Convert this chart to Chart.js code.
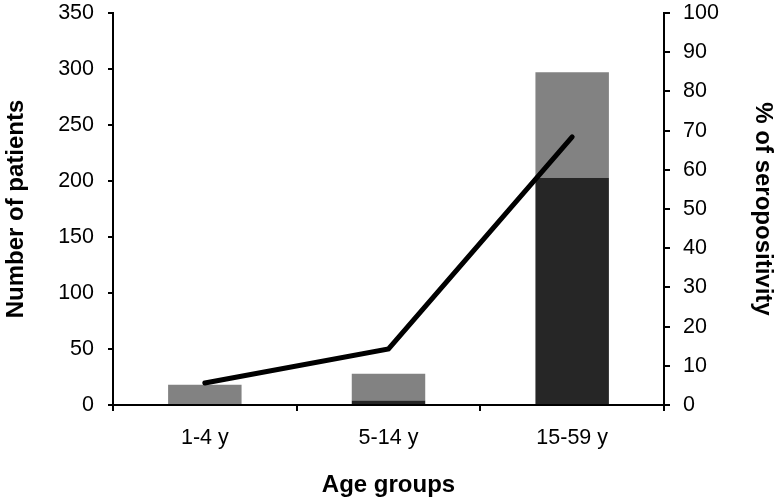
<!DOCTYPE html>
<html>
<head>
<meta charset="utf-8">
<script src="https://cdn.jsdelivr.net/npm/chart.js@4/dist/chart.umd.min.js"></script>
<style>
html,body{margin:0;padding:0;background:#fff;}
#wrap{width:778px;height:501px;position:relative;}
</style>
</head>
<body>
<div id="wrap"><canvas id="c" width="778" height="501"></canvas></div>
<script>
const categories = ["1-4 y", "5-14 y", "15-59 y"];
const seropositive = [1, 4, 203];
const seronegative = [17, 24, 94];
const seropositivityPct = [5.6, 14.3, 68.4];
const leftTicks = [0, 50, 100, 150, 200, 250, 300, 350];
const rightTicks = [0, 10, 20, 30, 40, 50, 60, 70, 80, 90, 100];

const FONT = "'Liberation Sans', Arial, sans-serif";
Chart.defaults.font.family = FONT;
Chart.defaults.color = "#000";

function fixV(w) {
  return s => { s.width = w; s.paddingTop = 0; s.paddingBottom = 0; };
}

new Chart(document.getElementById('c'), {
  data: {
    labels: categories,
    datasets: [
      { type: 'line', label: '% seropositivity', data: seropositivityPct, yAxisID: 'y1',
        borderColor: '#000', borderWidth: 5, pointRadius: 0, borderCapStyle: 'round',
        tension: 0, order: 0 },
      { type: 'bar', label: 'Seropositive', data: seropositive, yAxisID: 'y',
        backgroundColor: '#262626', barPercentage: 0.4, categoryPercentage: 1, order: 1 },
      { type: 'bar', label: 'Seronegative', data: seronegative, yAxisID: 'y',
        backgroundColor: '#828282', barPercentage: 0.4, categoryPercentage: 1, order: 1 }
    ]
  },
  options: {
    responsive: false,
    animation: false,
    layout: { padding: { top: 13, left: 0, right: 0, bottom: 0 } },
    plugins: { legend: { display: false }, tooltip: { enabled: false } },
    scales: {
      x: {
        stacked: true,
        grid: { display: true, drawOnChartArea: false, color: '#000', lineWidth: 2, tickLength: 6, offset: true },
        border: { display: true, color: '#000', width: 2 },
        ticks: { font: { size: 21.5 }, padding: 14, color: '#000' },
        title: { display: true, text: 'Age groups', font: { size: 24, weight: 'bold' }, color: '#000', padding: { top: 4, bottom: 1 } },
        afterFit: s => { s.height = 96; s.paddingLeft = 0; s.paddingRight = 0; }
      },
      y: {
        position: 'left',
        stacked: true,
        min: 0, max: 350,
        afterBuildTicks: s => { s.ticks = leftTicks.map(v => ({ value: v })); },
        grid: { display: true, drawOnChartArea: false, color: '#000', lineWidth: 2, tickLength: 5 },
        border: { display: true, color: '#000', width: 2 },
        ticks: { font: { size: 21.5 }, padding: 14, color: '#000' },
        title: { display: true, text: 'Number of patients', font: { size: 24, weight: 'bold' }, color: '#000', padding: { top: 2, bottom: 2 } },
        afterFit: fixV(113)
      },
      y1: {
        position: 'right',
        min: 0, max: 100,
        afterBuildTicks: s => { s.ticks = rightTicks.map(v => ({ value: v })); },
        grid: { display: true, drawOnChartArea: false, color: '#000', lineWidth: 2, tickLength: 6 },
        border: { display: true, color: '#000', width: 2 },
        ticks: { font: { size: 21.5 }, padding: 13, color: '#000' },
        title: { display: true, text: '% of seropositivity', font: { size: 24, weight: 'bold' }, color: '#000', padding: { top: 1, bottom: 1 } },
        afterFit: fixV(114)
      }
    }
  }
});
</script>
</body>
</html>
